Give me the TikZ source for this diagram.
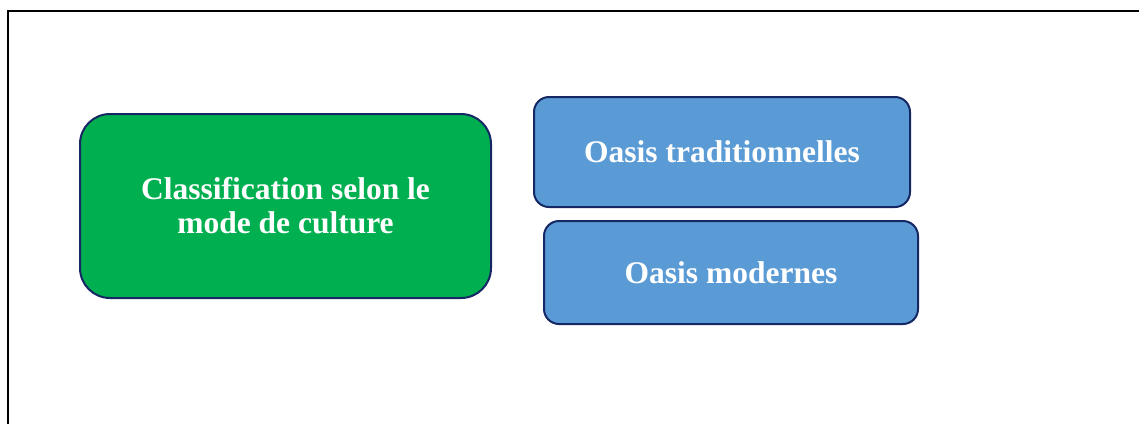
\documentclass[tikz,border=0pt]{standalone}
\usepackage{fontspec}
\setmainfont{Liberation Serif}
\usetikzlibrary{positioning}
\definecolor{oasisGreen}{RGB}{0, 176, 80}
\definecolor{oasisBlue}{RGB}{91, 155, 213}
\definecolor{oasisNavy}{RGB}{22, 40, 100}
\begin{document}
\begin{tikzpicture}[x=1pt, y=-1pt,
        box/.style={rectangle, rounded corners=15pt, draw=oasisNavy, line width=2pt, fill=oasisBlue, align=center, text=white, font=\fontsize{31.5}{34}\selectfont\bfseries, inner sep=0pt},
        frame/.style={black, line width=2.8pt}
    ]
        \useasboundingbox (0,0) rectangle (1139,424);
        \draw[frame] (8,424) -- (8,11) -- (1139,11);
        \node[box, fill=oasisGreen, rounded corners=30pt, minimum width=411pt, minimum height=184pt] (mode) at (285.5,206) {Classification selon le\\mode de culture};
        \node[box, minimum width=376pt, minimum height=110pt] (trad) at (722,152) {Oasis traditionnelles};
        \node[box, minimum width=374pt, minimum height=103pt] (modern) at (731,272.5) {Oasis modernes};
    \end{tikzpicture}
\end{document}
